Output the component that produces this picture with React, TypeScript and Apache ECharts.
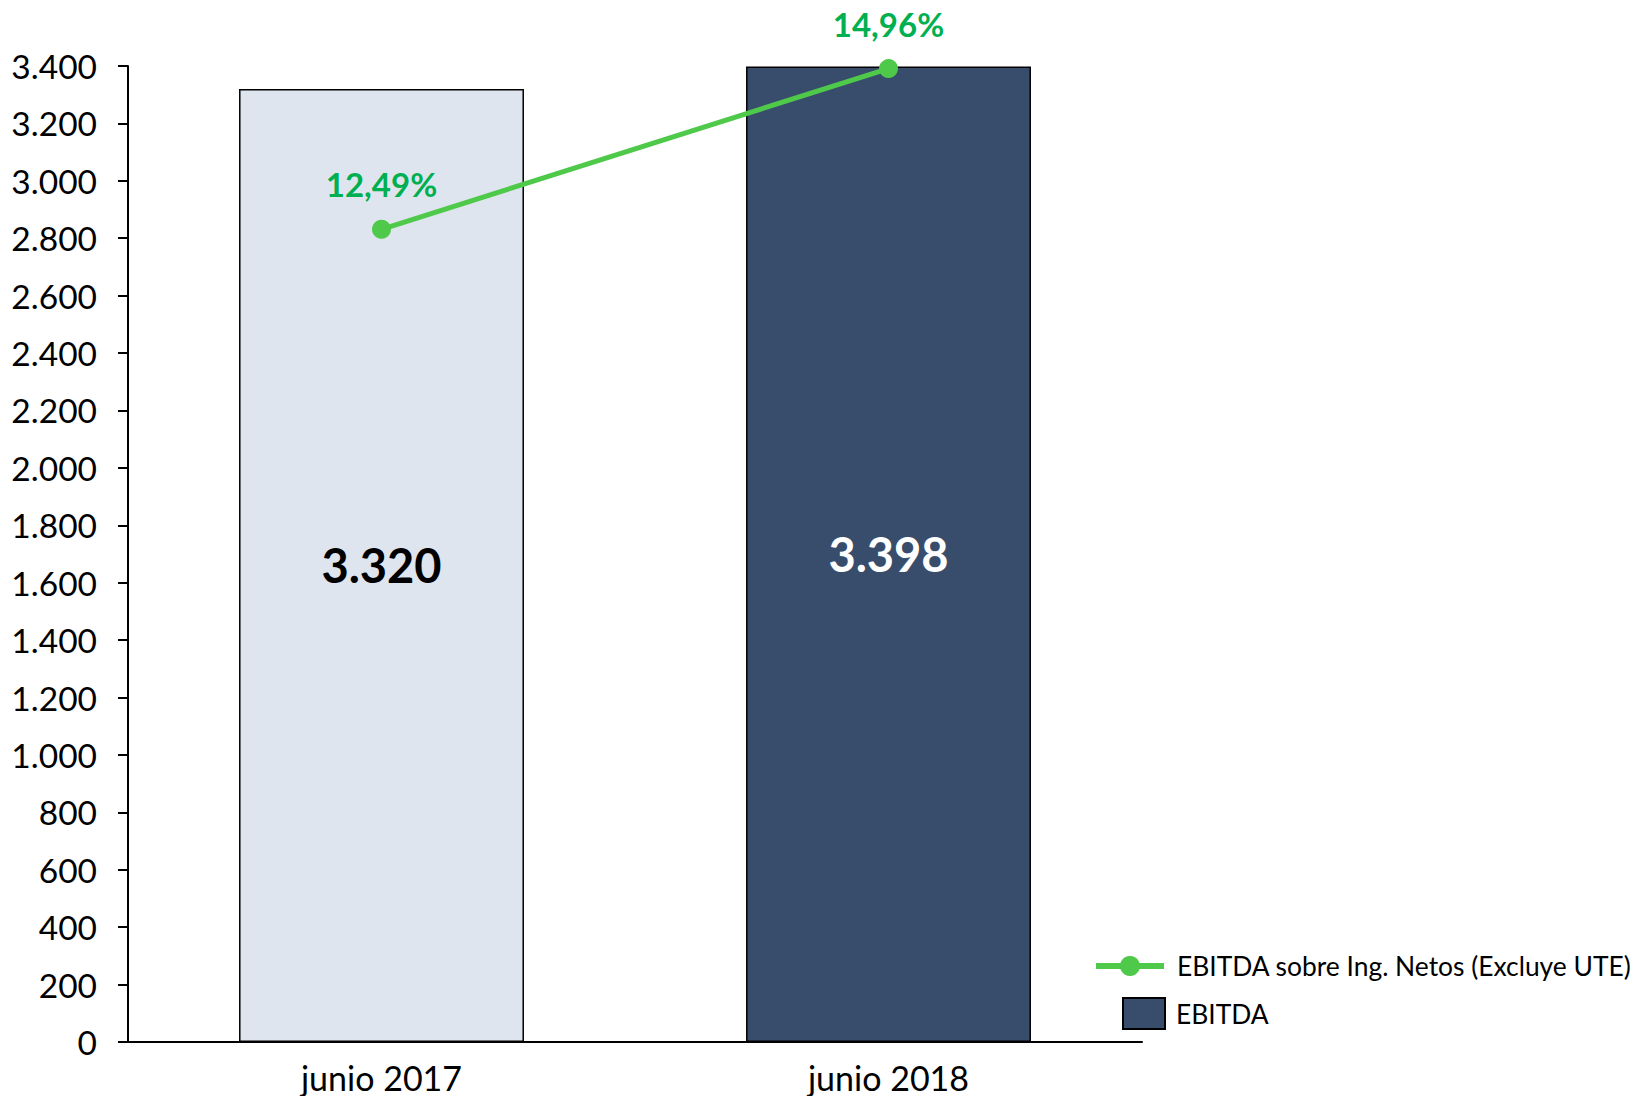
import React, { useEffect, useRef } from "react";
import * as echarts from "echarts";

const categories = ["junio 2017", "junio 2018"];
const ebitdaValues = [3320, 3398];
const marginValues = [12.49, 14.96];
const barColors = ["#DFE5EF", "#384D6B"];
const barLabelColors = ["#000000", "#FFFFFF"];
const seriesNames = ["EBITDA sobre Ing. Netos (Excluye UTE)", "EBITDA"];

const FONT = "Lato";

function fmtThousands(v: number): string {
  return String(Math.round(v)).replace(/\B(?=(\d{3})+(?!\d))/g, ".");
}
function fmtPct(v: number): string {
  return v.toFixed(2).replace(".", ",") + "%";
}

export default function App() {
  const ref = useRef<HTMLDivElement>(null);
  useEffect(() => {
    document.body.style.margin = "0";
    if (!ref.current) return;
    const chart = echarts.init(ref.current, null, { renderer: "svg" });
    chart.setOption({
      animation: false,
      backgroundColor: "#FFFFFF",
      textStyle: { fontFamily: FONT },
      grid: { left: 128, right: 492, top: 66, bottom: 54, containLabel: false },
      legend: [
        {
          data: [seriesNames[0]],
          orient: "vertical",
          left: 1088,
          top: 948,
          itemWidth: 68,
          itemHeight: 25,
          lineStyle: { width: 6 },
          textStyle: { fontFamily: FONT, fontSize: 26.4, color: "#000", padding: [0, 0, 0, 8] },
        },
        {
          data: [seriesNames[1]],
          orient: "vertical",
          left: 1117,
          top: 992,
          itemWidth: 42,
          itemHeight: 31,
          icon: "rect",
          textStyle: { fontFamily: FONT, fontSize: 26.4, color: "#000", padding: [0, 0, 0, 6] },
        },
      ],
      xAxis: {
        type: "category",
        data: categories,
        axisLine: { show: true, lineStyle: { color: "#000", width: 2 } },
        axisTick: { show: false },
        axisLabel: { fontFamily: FONT, fontSize: 34, color: "#000", margin: 18 },
      },
      yAxis: [
        {
          type: "value",
          min: 0,
          max: 3400,
          interval: 200,
          axisLine: { show: true, lineStyle: { color: "#000", width: 2 } },
          axisTick: { show: true, length: 10, lineStyle: { color: "#000", width: 2 } },
          splitLine: { show: false },
          axisLabel: {
            fontFamily: FONT,
            fontSize: 33.5,
            color: "#000",
            margin: 31,
            formatter: (v: number) => fmtThousands(v),
          },
        },
        { type: "value", min: 0, max: 15, show: false, splitLine: { show: false } },
      ],
      series: [
        {
          name: seriesNames[1],
          type: "bar",
          barWidth: "56.2%",
          yAxisIndex: 0,
          data: ebitdaValues.map((v, i) => ({
            value: v,
            itemStyle: { color: barColors[i], borderColor: "#000", borderWidth: 1.5 },
            label: { color: barLabelColors[i] },
          })),
          itemStyle: { color: barColors[1], borderColor: "#000", borderWidth: 1.5 },
          label: {
            show: true,
            position: "inside",
            fontFamily: FONT,
            fontWeight: "bold",
            fontSize: 47,
            formatter: (p: any) => fmtThousands(p.value),
          },
          z: 2,
        },
        {
          name: seriesNames[0],
          type: "line",
          yAxisIndex: 1,
          data: marginValues,
          symbol: "circle",
          symbolSize: 19,
          lineStyle: { color: "#4EC94A", width: 5 },
          itemStyle: { color: "#4EC94A" },
          label: {
            show: true,
            position: "top",
            distance: 19,
            fontFamily: FONT,
            fontWeight: "bold",
            fontSize: 33,
            color: "#00B050",
            formatter: (p: any) => fmtPct(p.value),
          },
          z: 3,
        },
      ],
    });
    return () => chart.dispose();
  }, []);
  return <div ref={ref} style={{ width: 1634, height: 1096 }} />;
}
